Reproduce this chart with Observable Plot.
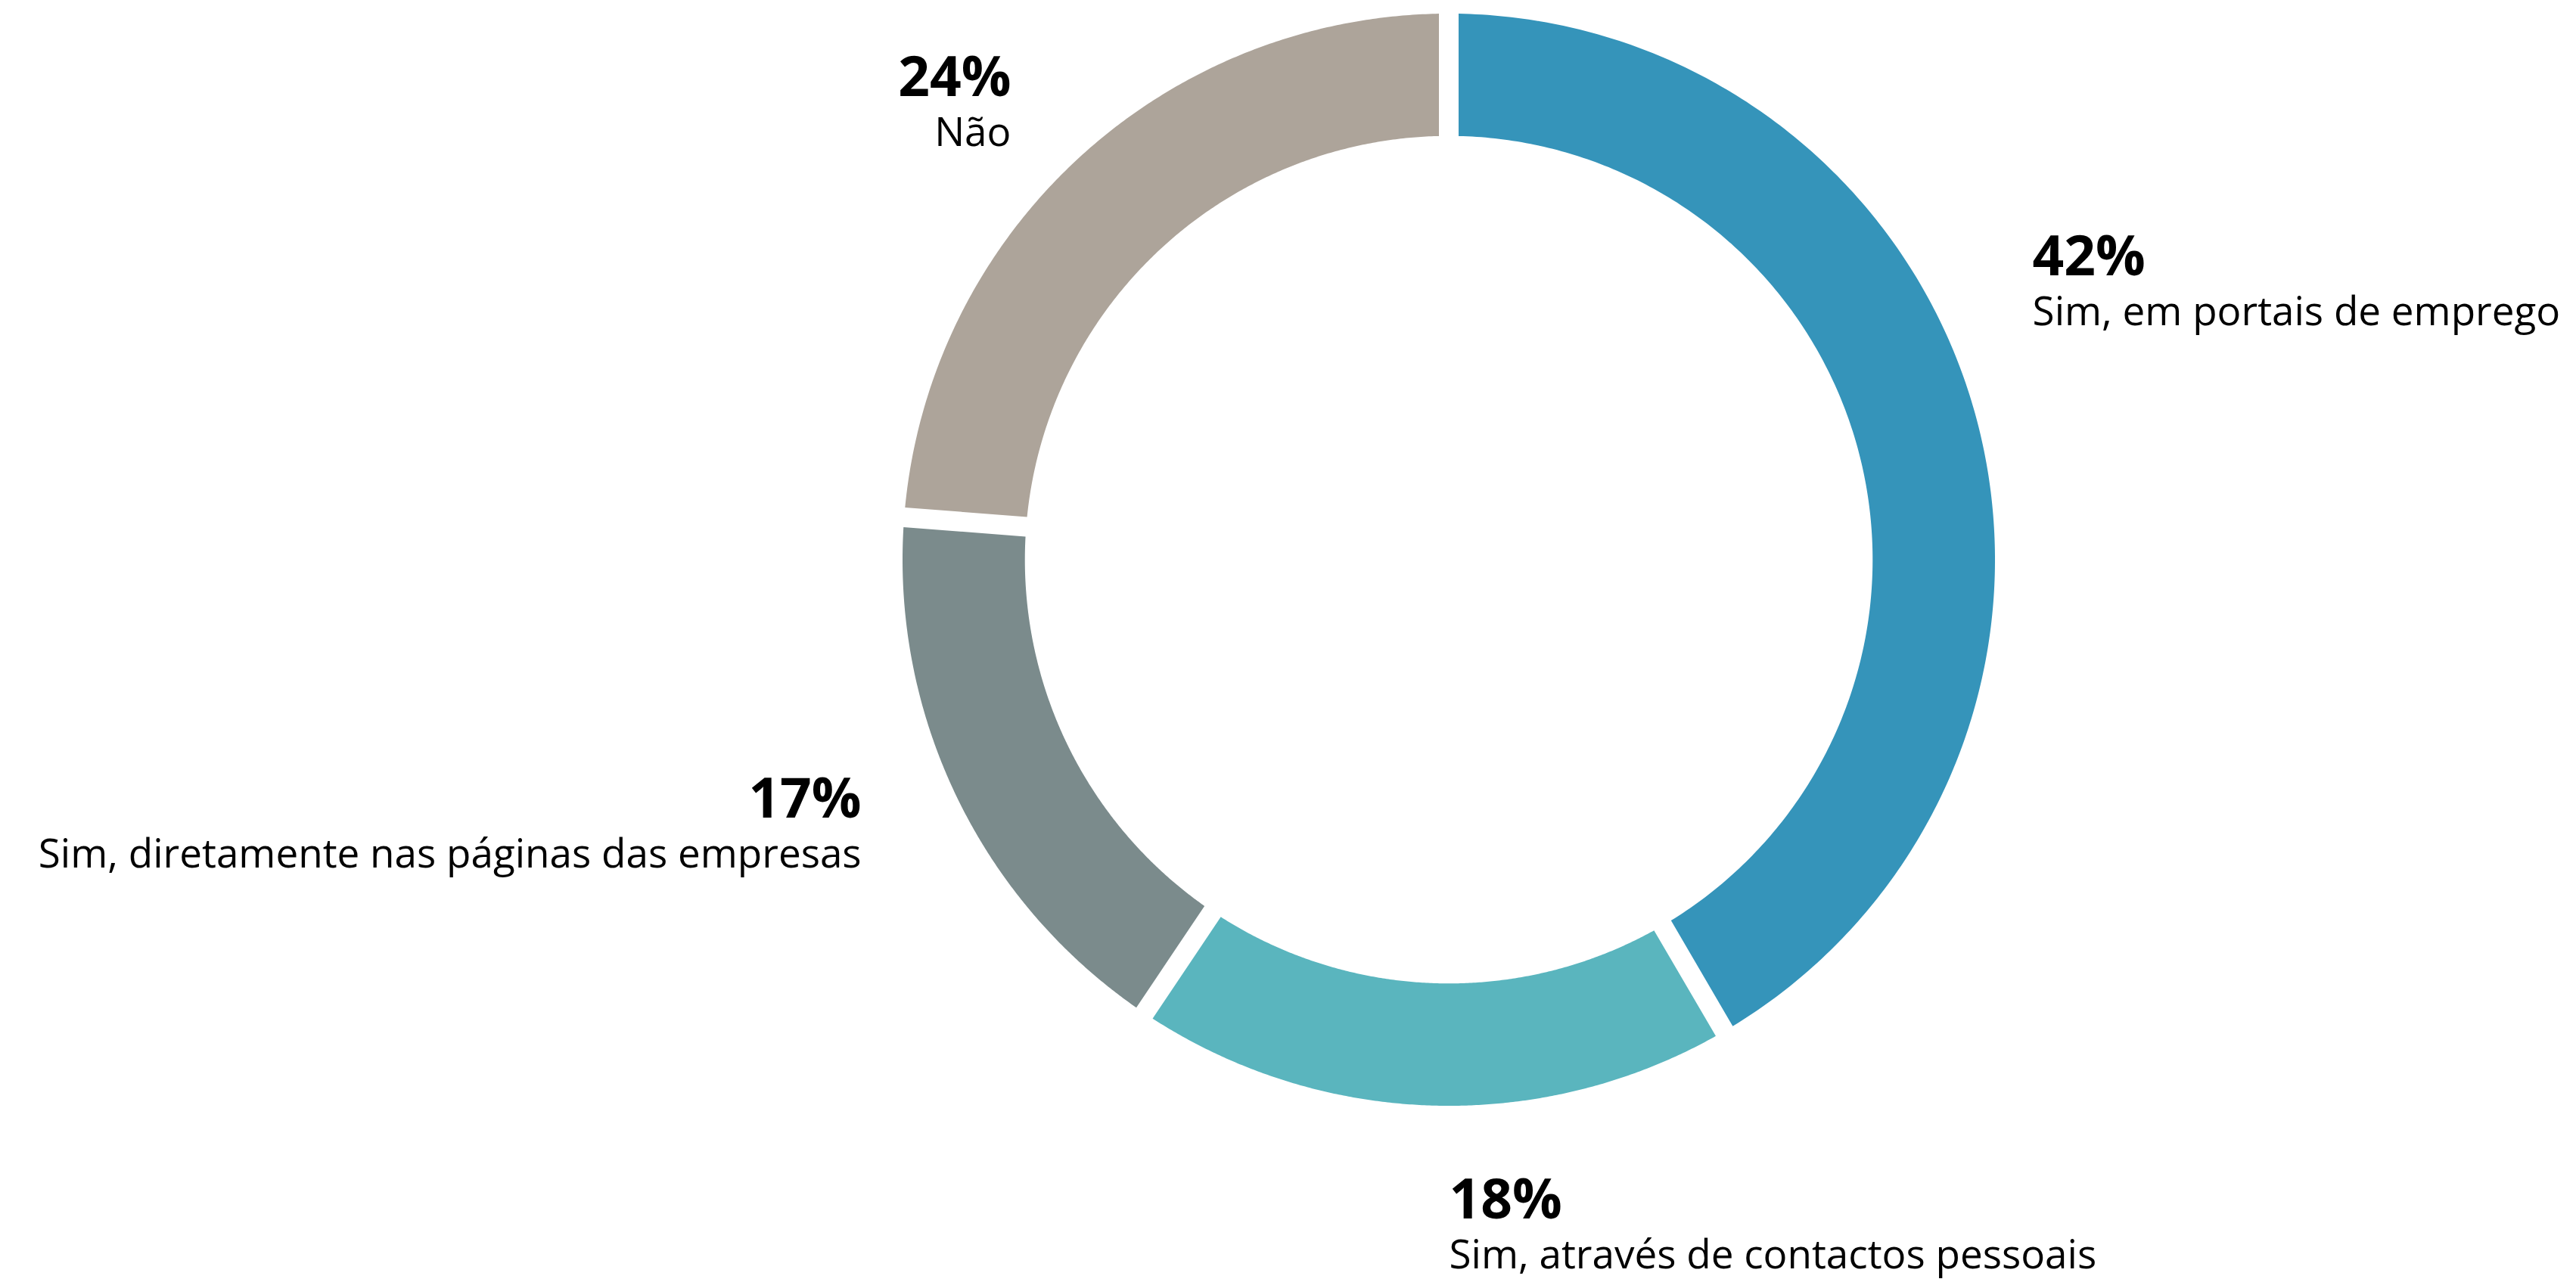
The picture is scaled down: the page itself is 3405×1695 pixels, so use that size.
<!DOCTYPE html>
<html>
<head>
<meta charset="utf-8">
<script src="https://cdn.jsdelivr.net/npm/d3@7"></script>
<script src="https://cdn.jsdelivr.net/npm/@observablehq/plot@0.6"></script>
<style>
  html, body { margin: 0; padding: 0; background: #ffffff; }
  #chart svg { display: block; }
</style>
</head>
<body>
<div id="chart"></div>
<script>
// ---- data ----
const categories = [
  "Sim, em portais de emprego",
  "Sim, através de contactos pessoais",
  "Sim, diretamente nas páginas das empresas",
  "Não"
];
const values = [42, 18, 17, 24];
const percentLabels = ["42%", "18%", "17%", "24%"];

// ---- styling / layout (not data) ----
const palette = ["#3594ba", "#5ab5be", "#7b8b8c", "#ada49a"];
const W = 3405, H = 1695;
const innerRatio = 0.776;   // inner radius / outer radius
const gapWidth = 0.036;     // constant gap width, in outer-radius units
const N = 240;              // samples along each arc edge

// label anchor positions in chart units (outer radius = 1)
const labelLayout = [
  {x: 1.068, y: 0.522, anchor: "start"},
  {x: 0.0, y: -1.206, anchor: "start"},
  {x: -1.076, y: -0.472, anchor: "end"},
  {x: -0.802, y: 0.850, anchor: "end"}
];

const rows = categories.map((c, i) => ({category: c, value: values[i], pct: percentLabels[i], ...labelLayout[i]}));

const arcs = d3.pie().sort(null).value(d => d.value)(rows);
const hw = gapWidth / 2;
const ringPoints = arcs.flatMap(p => {
  const oa0 = p.startAngle + Math.asin(hw / 1), oa1 = p.endAngle - Math.asin(hw / 1);
  const ia0 = p.startAngle + Math.asin(hw / innerRatio), ia1 = p.endAngle - Math.asin(hw / innerRatio);
  return d3.range(N + 1).map(i => {
    const t = i / N;
    const ao = oa0 + t * (oa1 - oa0);
    const ai = ia0 + t * (ia1 - ia0);
    return {
      category: p.data.category,
      xo: Math.sin(ao), yo: Math.cos(ao),
      xi: innerRatio * Math.sin(ai), yi: innerRatio * Math.cos(ai)
    };
  });
});

const startRows = rows.filter(d => d.anchor === "start");
const endRows = rows.filter(d => d.anchor === "end");

const pctSize = 73, labelSize = 53, labelDy = 66;

const chart = Plot.plot({
  width: W,
  height: H,
  marginLeft: 1193,
  marginRight: 768,
  marginTop: 18,
  marginBottom: 233,
  style: {fontFamily: "'Open Sans', sans-serif", background: "#ffffff", color: "#000"},
  x: {domain: [-1, 1], axis: null},
  y: {domain: [-1, 1], axis: null},
  color: {domain: categories, range: palette},
  marks: [
    Plot.area(ringPoints, {x1: "xo", y1: "yo", x2: "xi", y2: "yi", z: "category", fill: "category", curve: "linear"}),
    Plot.text(startRows, {x: "x", y: "y", text: "pct", textAnchor: "start", lineAnchor: "bottom", fontSize: pctSize, fontWeight: 700, fill: "#000"}),
    Plot.text(endRows, {x: "x", y: "y", text: "pct", textAnchor: "end", lineAnchor: "bottom", fontSize: pctSize, fontWeight: 700, fill: "#000"}),
    Plot.text(startRows, {x: "x", y: "y", text: "category", textAnchor: "start", lineAnchor: "bottom", dy: labelDy, fontSize: labelSize, fill: "#000"}),
    Plot.text(endRows, {x: "x", y: "y", text: "category", textAnchor: "end", lineAnchor: "bottom", dy: labelDy, fontSize: labelSize, fill: "#000"})
  ]
});

document.getElementById("chart").appendChild(chart);
</script>
</body>
</html>
